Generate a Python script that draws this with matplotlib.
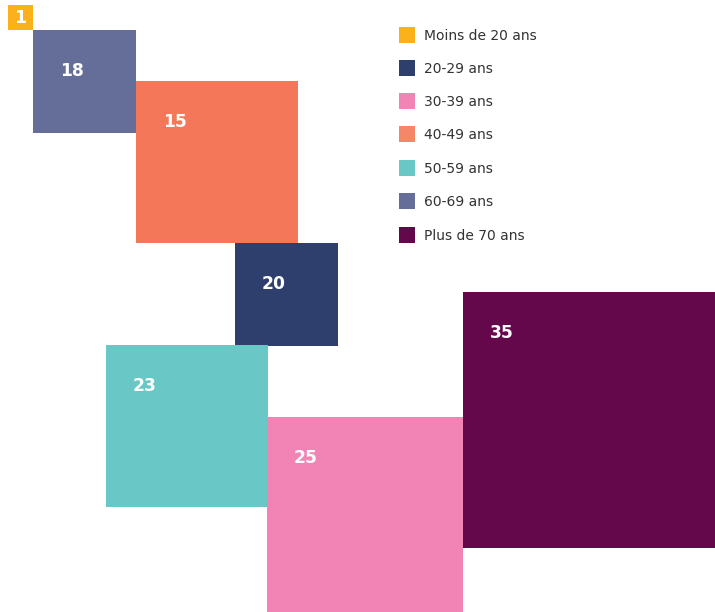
import matplotlib
matplotlib.use("Agg")
import matplotlib.pyplot as plt
from matplotlib.patches import Rectangle

# Data
categories = ["Moins de 20 ans", "20-29 ans", "30-39 ans", "40-49 ans",
              "50-59 ans", "60-69 ans", "Plus de 70 ans"]
colors = ["#FBB11A", "#2F3F6D", "#F284B5", "#F4775A", "#69C8C5", "#646E98", "#64074B"]
legend_colors = ["#FBB11A", "#2F3F6D", "#F284B5", "#F5866A", "#69C8C5", "#646E98", "#64074B"]
shown = ["60-69 ans", "40-49 ans", "20-29 ans", "50-59 ans", "30-39 ans", "Plus de 70 ans"]
values = [18, 15, 20, 23, 25, 35]

# Layout (pixel boxes: left, top, width, height)
boxes = [(33, 30, 103, 103), (136, 81, 162, 162), (235, 243, 103, 103),
         (106, 345, 162, 162), (267, 417, 196, 196), (463, 292, 252, 256)]

W, H = 715, 612
fig = plt.figure(figsize=(W / 100, H / 100), dpi=100)
ax = fig.add_axes([0, 0, 1, 1])
ax.set_xlim(0, W)
ax.set_ylim(H, 0)
ax.axis("off")

numfont = "DejaVu Sans"
for cat, val, (x, y, w, h) in zip(shown, values, boxes):
    c = colors[categories.index(cat)]
    ax.add_patch(Rectangle((x, y), w, h, facecolor=c, edgecolor="none"))
    ax.text(x + 39, y + 41, str(val), color="white", fontsize=12.3, fontweight="bold",
            ha="center", va="center", family=numfont)

# Badge
ax.add_patch(Rectangle((8, 5), 25, 25, facecolor="#FBB11A", edgecolor="none"))
ax.text(20.5, 18, "1", color="white", fontsize=12.5, fontweight="bold",
        ha="center", va="center", family=numfont)

# Legend
ys = [35, 68, 101, 134, 168, 201, 235]
for cat, c, yy in zip(categories, legend_colors, ys):
    ax.add_patch(Rectangle((399, yy - 8), 16, 16, facecolor=c, edgecolor="none"))
    ax.text(424, yy + 1, cat, color="#333333", fontsize=10, ha="left", va="center",
            family="DejaVu Sans")

fig.savefig("out.png", dpi=100)
